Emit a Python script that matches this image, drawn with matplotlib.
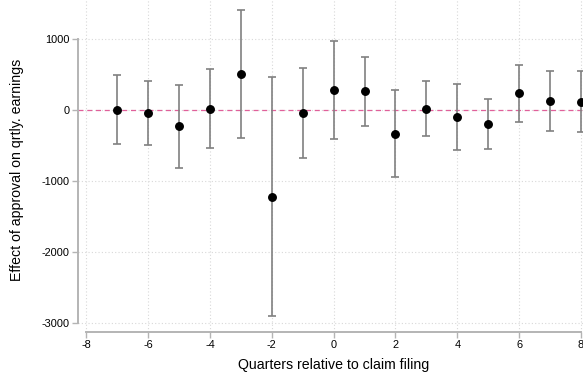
import numpy as np
import matplotlib
matplotlib.use("Agg")
import matplotlib.pyplot as plt

plt.rcParams['font.family'] = ['Liberation Sans', 'DejaVu Sans']
plt.rcParams['axes.unicode_minus'] = False

# event-study coefficients by quarter relative to filing
quarters = [-7, -6, -5, -4, -3, -2, -1, 0, 1, 2, 3, 4, 5, 6, 7, 8]
coef = [0, -42, -230, 18, 511, -1219, -42, 281, 263, -333, 18, -98, -197, 235, 127, 117]
ci_lo = [-483, -488, -811, -539, -390, -2901, -671, -404, -221, -947, -366, -558, -544, -169, -295, -309]
ci_hi = [488, 412, 352, 581, 1411, 464, 591, 966, 750, 286, 408, 361, 159, 633, 549, 549]

xticks = [-8, -6, -4, -2, 0, 2, 4, 6, 8]
yticks = [-3000, -2000, -1000, 0, 1000]

coef = np.array(coef)
err = np.vstack([coef - np.array(ci_lo), np.array(ci_hi) - coef])

fig = plt.figure(figsize=(5.83, 3.77), dpi=100)
ax = fig.add_axes([0.1338, 0.1202, 0.8662, 0.8798])

ax.grid(True, color='#d8d8d8', linestyle=(0, (1, 2)), linewidth=0.8)
ax.set_axisbelow(True)

ax.axhline(0, color='#e0609a', linestyle=(0, (4, 3)), linewidth=0.9, zorder=1)

ax.errorbar(quarters, coef, yerr=err, fmt='none', ecolor='#808080',
            elinewidth=1.2, capsize=3, capthick=1.2, zorder=2)
ax.plot(quarters, coef, 'o', color='black', markersize=5.4, zorder=3)

ax.set_xlim(-8.268, 8.065)
ax.set_ylim(-3123, 1549)
ax.set_xticks(xticks)
ax.set_yticks(yticks)

for s in ['top', 'right']:
    ax.spines[s].set_visible(False)
for s in ['left', 'bottom']:
    ax.spines[s].set_color('#b4b4b4')
    ax.spines[s].set_linewidth(1.4)
ax.spines['left'].set_bounds(-3000, 1000)
ax.spines['bottom'].set_bounds(-8, 8)

ax.tick_params(axis='both', colors='#b4b4b4', labelcolor='black',
               length=4, width=1.0, labelsize=7.9, pad=2)

ax.set_xlabel('Quarters relative to claim filing', fontsize=10.2)
ax.set_ylabel('Effect of approval on qrtly. earnings', fontsize=10.2)
ax.xaxis.set_label_coords(0.507, -0.078)
ax.yaxis.set_label_coords(-0.106, 0.4875)

plt.savefig('out.png', dpi=100)
